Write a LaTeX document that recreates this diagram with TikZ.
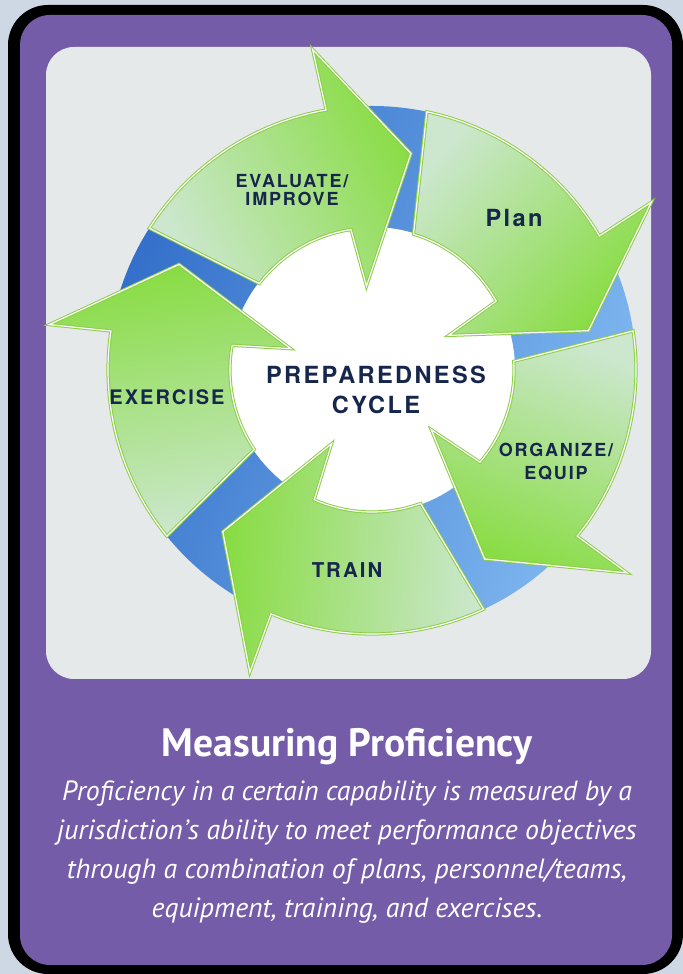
\documentclass[tikz,border=0pt]{standalone}
\usepackage{fontspec}
\setmainfont{PT Sans}
\newfontfamily\cyclefont[LetterSpace=10]{TeX Gyre Heros}

\definecolor{pagebg}{RGB}{206,216,228}
\definecolor{cardpurple}{RGB}{116,92,168}
\definecolor{panelgray}{RGB}{230,233,234}
\definecolor{ringdark}{RGB}{52,112,202}
\definecolor{ringlight}{RGB}{128,184,240}
\definecolor{palegreen}{RGB}{204,231,206}
\definecolor{brightgreen}{RGB}{136,220,66}
\definecolor{edgegreen}{RGB}{140,206,72}
\definecolor{labelnavy}{RGB}{22,38,76}

\begin{document}
\begin{tikzpicture}[x=0.5pt, y=0.5pt,
  cyclearrow/.style={draw=edgegreen, line width=0.5pt, double=white, double distance=0.6pt, left color=palegreen, right color=brightgreen},
  steplabel/.style={font=\cyclefont\bfseries\fontsize{#1}{#1}\selectfont, text=labelnavy, align=center, inner sep=0pt},
  titletext/.style={font=\bfseries\fontsize{19.8}{24}\selectfont, text=white, inner sep=0pt},
  captiontext/.style={font=\itshape\fontsize{13.9}{19.6}\selectfont, text=white, align=center, inner sep=0pt}
]
  \useasboundingbox (0,0) rectangle (683,974);
  \fill[pagebg] (0,0) rectangle (683,974);
  \fill[black, rounded corners=20pt] (8,0) rectangle (683,969);
  \fill[cardpurple, rounded corners=15pt] (20,9) rectangle (672,959);
  % picture panel
  \fill[panelgray, rounded corners=14pt] (46,295) rectangle (651,927);

  % the cycle
  \begin{scope}[shift={(372,604)}]
    \shade[left color=ringdark, right color=ringlight, shading angle=70] (0,0) circle[radius=264];
    \fill[white] (0,0) circle[radius=143];
    % evaluate / improve
    \draw[cyclearrow, shading angle=117.5] (147.5:264) arc[start angle=147.5, end angle=100, radius=264]
      -- (100.5:326) -- (79.8:220) -- (93.8:84) -- (98.5:142) arc[start angle=98.5, end angle=142.5, radius=142] -- cycle;
    % plan
    \draw[cyclearrow, shading angle=48] (78:264) arc[start angle=78, end angle=30.5, radius=264]
      -- (31:326) -- (10.3:220) -- (24.3:84) -- (29:142) arc[start angle=29, end angle=73, radius=142] -- cycle;
    % organize / equip
    \draw[cyclearrow, shading angle=-21.5] (8.5:264) arc[start angle=8.5, end angle=-39, radius=264]
      -- (-38.5:326) -- (-59.2:220) -- (-45.2:84) -- (-40.5:142) arc[start angle=-40.5, end angle=3.5, radius=142] -- cycle;
    % train
    \draw[cyclearrow, shading angle=265] (-65:264) arc[start angle=-65, end angle=-112.5, radius=264]
      -- (-112:326) -- (-132.7:220) -- (-118.7:84) -- (-114:142) arc[start angle=-114, end angle=-70, radius=142] -- cycle;
    % exercise
    \draw[cyclearrow, shading angle=189] (219:264) arc[start angle=219, end angle=171.5, radius=264]
      -- (172:326) -- (151.3:220) -- (165.3:84) -- (170:142) arc[start angle=170, end angle=214, radius=142] -- cycle;
  \end{scope}

  \node[steplabel=9] (evaluate) at (292,784) {EVALUATE/\\[0pt]IMPROVE};
  \node[steplabel=11.8] (plan) at (514,756) {Plan};
  \node[steplabel=10] (exercise) at (167,577) {EXERCISE};
  \node[steplabel=9] (organize) at (556,512) {ORGANIZE/\\[2.5pt]EQUIP};
  \node[steplabel=10.2] (train) at (347,404) {TRAIN};
  \node[steplabel=11.8] (hub) at (376,584) {PREPAREDNESS\\[3pt]CYCLE};

  \node[titletext] (title) at (347,227) {Measuring Proficiency};
  \node[captiontext] (caption) at (347,122) {Proficiency in a certain capability is measured by a\\jurisdiction’s ability to meet performance objectives\\through a combination of plans, personnel/teams,\\equipment, training, and exercises.};
\end{tikzpicture}
\end{document}
